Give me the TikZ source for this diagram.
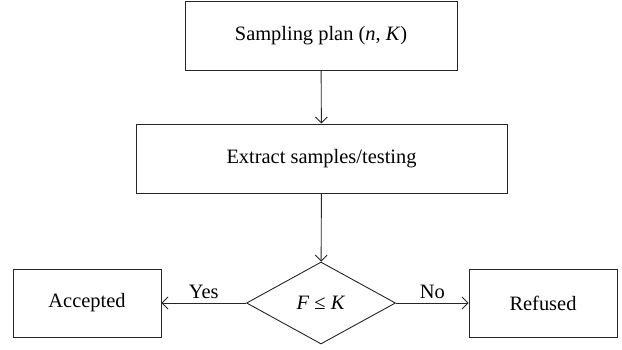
\documentclass[tikz,border=0pt]{standalone}
\usepackage{fontspec}
\setmainfont{Liberation Serif}
\usetikzlibrary{arrows.meta,shapes.geometric}
\begin{document}
\begin{tikzpicture}[x=1bp,y=-1bp,
  txt/.style={font=\fontsize{20.5}{24}\selectfont},
  box/.style={txt,draw=black!85,line width=0.9bp,minimum height=68bp,inner sep=0pt},
  decision/.style={txt,draw=black!85,line width=0.9bp,diamond,minimum width=149bp,minimum height=82bp,inner sep=0pt},
  flow/.style={draw=black!85,line width=0.9bp,-{Straight Barb[length=6bp,width=12bp]}},
  lbl/.style={txt,inner sep=0pt}]
\useasboundingbox (0,0) rectangle (622,349);
\node[box,minimum width=272bp,minimum height=69bp] (plan) at (321,35.5) {Sampling plan (\textit{n}, \textit{K})};
\node[box,minimum width=371bp,minimum height=69bp] (extract) at (321.5,158.5) {Extract samples/testing};
\node[decision] (dec) at (321,303) {\textit{F} ≤ \textit{K}};
\node[box,minimum width=148bp] (acc) at (87,303) {Accepted};
\node[box,minimum width=148bp] (ref) at (543,303) {Refused};
\draw[flow] (plan) -- (extract);
\draw[flow] (extract) -- (dec);
\draw[flow] (dec) -- node[lbl,above=4bp] {Yes} (acc);
\draw[flow] (dec) -- node[lbl,above=4bp] {No} (ref);
\end{tikzpicture}
\end{document}
